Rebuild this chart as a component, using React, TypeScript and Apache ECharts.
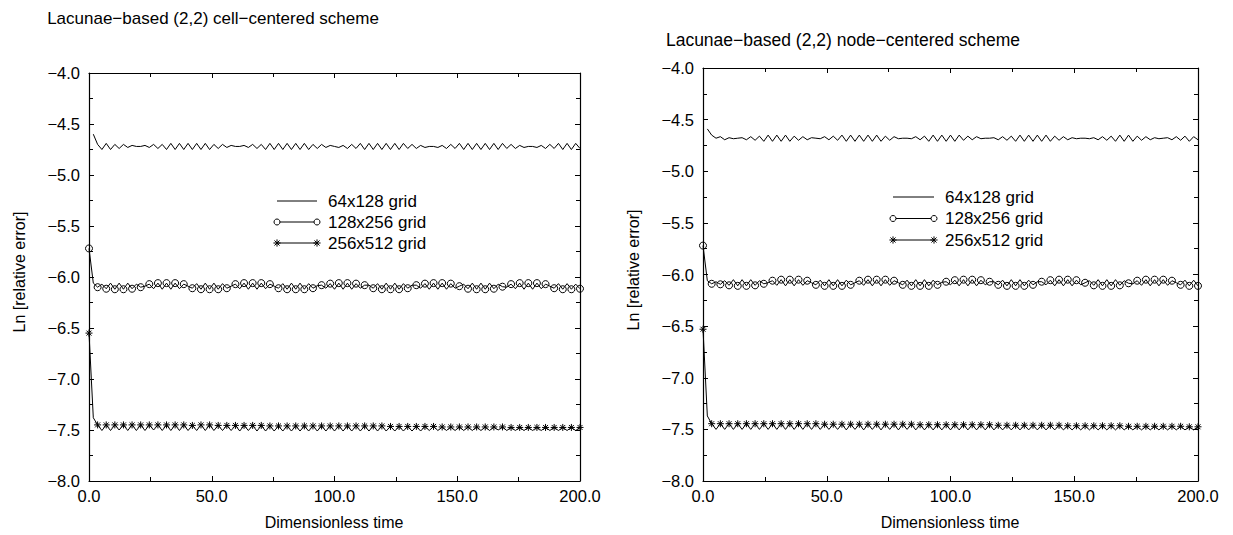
import React, { useEffect, useRef } from "react";
import * as echarts from "echarts";

const FONT = '"Liberation Sans", Arial, Helvetica, sans-serif';

const LEFT_TITLE = "Lacunae\u2212based (2,2) cell\u2212centered scheme";
const RIGHT_TITLE = "Lacunae\u2212based (2,2) node\u2212centered scheme";
const X_NAME = "Dimensionless time";
const Y_NAME = "Ln [relative error]";
const LEGEND_NAMES = ["64x128 grid", "128x256 grid", "256x512 grid"];

const T_MIN = 0;
const T_MAX = 200;
const T_STEP = 50;
const Y_MIN = -8;
const Y_MAX = -4;
const Y_STEP = 0.5;

// Left panel: cell-centered
const cell64: (number | null)[] = [
  null, -4.60, -4.70, -4.75, -4.69, -4.75, -4.70, -4.74, -4.70, -4.73,
  -4.71, -4.72, -4.72, -4.71, -4.73, -4.70, -4.74, -4.70, -4.75, -4.69,
  -4.75, -4.69, -4.75, -4.69, -4.75, -4.69, -4.75, -4.69, -4.75, -4.70,
  -4.74, -4.70, -4.73, -4.71, -4.72, -4.72, -4.71, -4.73, -4.70, -4.74,
  -4.70, -4.75, -4.69, -4.75, -4.69, -4.75, -4.69, -4.75, -4.69, -4.75,
  -4.69, -4.75, -4.70, -4.74, -4.70, -4.73, -4.71, -4.72, -4.73, -4.71,
  -4.74, -4.70, -4.74, -4.69, -4.75, -4.69, -4.75, -4.69, -4.75, -4.69,
  -4.75, -4.69, -4.75, -4.69, -4.74, -4.70, -4.74, -4.71, -4.73, -4.72,
  -4.72, -4.73, -4.71, -4.74, -4.70, -4.74, -4.69, -4.75, -4.69, -4.75,
  -4.69, -4.75, -4.69, -4.75, -4.69, -4.75, -4.69, -4.74, -4.70, -4.74,
  -4.71, -4.73, -4.72, -4.72, -4.73, -4.71, -4.74, -4.70, -4.74, -4.69,
  -4.75, -4.69, -4.75, -4.69, -4.74,
];
const cell128: number[] = [
  -5.72, -6.06, -6.10, -6.07, -6.115, -6.06, -6.12, -6.06, -6.12, -6.06,
  -6.115, -6.07, -6.10, -6.09, -6.07, -6.115, -6.06, -6.12, -6.06, -6.12,
  -6.06, -6.115, -6.07, -6.09, -6.11, -6.065, -6.12, -6.06, -6.12, -6.06,
  -6.12, -6.065, -6.11, -6.09, -6.07, -6.115, -6.06, -6.12, -6.06, -6.12,
  -6.06, -6.115, -6.07, -6.09, -6.11, -6.065, -6.12, -6.06, -6.12, -6.06,
  -6.12, -6.065, -6.11, -6.085, -6.08, -6.11, -6.065, -6.12, -6.06, -6.12,
  -6.06, -6.12, -6.065, -6.11, -6.08, -6.08, -6.11, -6.065, -6.12, -6.06,
  -6.12, -6.06, -6.12, -6.065, -6.11, -6.08, -6.08, -6.11, -6.065, -6.12,
  -6.06, -6.12, -6.06, -6.12, -6.065, -6.11, -6.09, -6.07, -6.115, -6.06,
  -6.12, -6.06, -6.12, -6.06, -6.115, -6.07, -6.095, -6.10, -6.07, -6.115,
  -6.06, -6.12, -6.06, -6.12, -6.06, -6.115, -6.07, -6.09, -6.11, -6.065,
  -6.12, -6.065, -6.12, -6.07, -6.115,
];
const cell256: number[] = [
  -6.55, -7.38, -7.45, -7.505, -7.45, -7.505, -7.45, -7.50, -7.45, -7.505,
  -7.45, -7.505, -7.45, -7.505, -7.45, -7.50, -7.45, -7.505, -7.45, -7.505,
  -7.45, -7.505, -7.45, -7.505, -7.455, -7.505, -7.45, -7.505, -7.45, -7.505,
  -7.455, -7.505, -7.455, -7.505, -7.455, -7.51, -7.455, -7.505, -7.455, -7.51,
  -7.455, -7.51, -7.46, -7.51, -7.46, -7.51, -7.46, -7.51, -7.46, -7.51,
  -7.46, -7.51, -7.46, -7.51, -7.46, -7.51, -7.46, -7.51, -7.46, -7.51,
  -7.46, -7.51, -7.46, -7.51, -7.46, -7.51, -7.46, -7.51, -7.46, -7.51,
  -7.465, -7.51, -7.465, -7.51, -7.465, -7.51, -7.465, -7.51, -7.465, -7.505,
  -7.465, -7.505, -7.47, -7.505, -7.47, -7.505, -7.47, -7.505, -7.47, -7.505,
  -7.47, -7.505, -7.47, -7.505, -7.47, -7.50, -7.47, -7.505, -7.475, -7.505,
  -7.475, -7.505, -7.475, -7.505, -7.475, -7.505, -7.475, -7.505, -7.475, -7.505,
  -7.475, -7.505, -7.475, -7.505, -7.475,
];

// Right panel: node-centered
const node64: (number | null)[] = [
  null, -4.59, -4.65, -4.68, -4.665, -4.695, -4.675, -4.685, -4.68, -4.675,
  -4.695, -4.665, -4.70, -4.66, -4.71, -4.65, -4.71, -4.65, -4.71, -4.65,
  -4.71, -4.66, -4.70, -4.665, -4.695, -4.675, -4.68, -4.685, -4.665, -4.695,
  -4.66, -4.70, -4.65, -4.71, -4.65, -4.71, -4.65, -4.71, -4.65, -4.71,
  -4.65, -4.71, -4.66, -4.70, -4.665, -4.685, -4.68, -4.68, -4.685, -4.665,
  -4.695, -4.66, -4.71, -4.65, -4.71, -4.65, -4.71, -4.65, -4.71, -4.65,
  -4.70, -4.66, -4.695, -4.665, -4.685, -4.68, -4.68, -4.675, -4.695, -4.665,
  -4.70, -4.66, -4.71, -4.65, -4.71, -4.65, -4.71, -4.65, -4.71, -4.65,
  -4.71, -4.66, -4.70, -4.665, -4.695, -4.675, -4.685, -4.68, -4.68, -4.685,
  -4.675, -4.695, -4.665, -4.70, -4.66, -4.71, -4.65, -4.71, -4.65, -4.71,
  -4.66, -4.70, -4.665, -4.695, -4.675, -4.685, -4.68, -4.675, -4.695, -4.665,
  -4.70, -4.66, -4.71, -4.665, -4.695,
];
const node128: number[] = [
  -5.72, -6.06, -6.09, -6.07, -6.095, -6.06, -6.105, -6.05, -6.11, -6.05,
  -6.11, -6.05, -6.105, -6.06, -6.09, -6.08, -6.06, -6.105, -6.05, -6.11,
  -6.05, -6.11, -6.05, -6.105, -6.06, -6.08, -6.10, -6.055, -6.11, -6.05,
  -6.11, -6.05, -6.11, -6.055, -6.10, -6.08, -6.06, -6.105, -6.05, -6.11,
  -6.05, -6.11, -6.05, -6.105, -6.06, -6.08, -6.10, -6.055, -6.11, -6.05,
  -6.11, -6.05, -6.11, -6.055, -6.10, -6.075, -6.07, -6.10, -6.055, -6.11,
  -6.05, -6.11, -6.05, -6.11, -6.055, -6.10, -6.07, -6.07, -6.10, -6.055,
  -6.11, -6.05, -6.11, -6.05, -6.11, -6.055, -6.10, -6.07, -6.07, -6.10,
  -6.055, -6.11, -6.05, -6.11, -6.05, -6.11, -6.055, -6.10, -6.08, -6.06,
  -6.105, -6.05, -6.11, -6.05, -6.11, -6.05, -6.105, -6.06, -6.085, -6.09,
  -6.06, -6.105, -6.05, -6.11, -6.05, -6.11, -6.05, -6.105, -6.06, -6.08,
  -6.10, -6.055, -6.11, -6.055, -6.11,
];
const node256: number[] = [
  -6.53, -7.37, -7.445, -7.50, -7.445, -7.50, -7.445, -7.50, -7.445, -7.50,
  -7.445, -7.50, -7.445, -7.50, -7.445, -7.50, -7.445, -7.50, -7.445, -7.50,
  -7.445, -7.50, -7.445, -7.50, -7.445, -7.50, -7.445, -7.50, -7.45, -7.50,
  -7.45, -7.50, -7.45, -7.505, -7.45, -7.50, -7.45, -7.505, -7.45, -7.50,
  -7.45, -7.505, -7.45, -7.50, -7.45, -7.505, -7.45, -7.50, -7.45, -7.505,
  -7.455, -7.505, -7.455, -7.505, -7.455, -7.505, -7.455, -7.505, -7.455, -7.505,
  -7.455, -7.505, -7.455, -7.505, -7.455, -7.505, -7.455, -7.505, -7.46, -7.505,
  -7.46, -7.505, -7.46, -7.505, -7.46, -7.505, -7.46, -7.505, -7.46, -7.505,
  -7.46, -7.505, -7.46, -7.505, -7.465, -7.505, -7.465, -7.505, -7.465, -7.505,
  -7.465, -7.505, -7.465, -7.505, -7.465, -7.505, -7.465, -7.505, -7.47, -7.505,
  -7.47, -7.505, -7.47, -7.505, -7.47, -7.505, -7.47, -7.505, -7.47, -7.505,
  -7.47, -7.505, -7.475, -7.505, -7.475,
];

const STAR_PATH =
  "path://M5,0L5,10M0,5L10,5M1.46,1.46L8.54,8.54M1.46,8.54L8.54,1.46";

const minus = (s: string) => s.replace("-", "\u2212");

function toData(vals: (number | null)[], marked: boolean) {
  const n = vals.length - 1;
  return vals.map((v, i) => {
    const item: any = { value: [T_MIN + (i * (T_MAX - T_MIN)) / n, v] };
    if (marked && !(i === 0 || (i >= 2 && i % 2 === 0))) item.symbol = "none";
    return item;
  });
}

function makeSeries(axis: number, s64: any[], s128: any[], s256: any[]) {
  const base = {
    type: "line",
    xAxisIndex: axis,
    yAxisIndex: axis,
    lineStyle: { color: "#000", width: 1 },
    silent: true,
    showAllSymbol: true,
    z: 3,
  };
  return [
    { ...base, name: LEGEND_NAMES[0], showSymbol: false, data: toData(s64, false) },
    {
      ...base,
      name: LEGEND_NAMES[1],
      symbol: "circle",
      symbolSize: 7,
      itemStyle: { color: "rgba(0,0,0,0)", borderColor: "#000", borderWidth: 1 },
      data: toData(s128, true),
    },
    {
      ...base,
      name: LEGEND_NAMES[2],
      symbol: STAR_PATH,
      symbolSize: 7,
      itemStyle: { color: "#000", borderColor: "#000", borderWidth: 1 },
      data: toData(s256, true),
    },
  ];
}

function axisPair(kind: "x" | "y", grid: number) {
  const isX = kind === "x";
  const common = {
    gridIndex: grid,
    type: "value",
    min: isX ? T_MIN : Y_MIN,
    max: isX ? T_MAX : Y_MAX,
    interval: isX ? T_STEP : Y_STEP,
    splitLine: { show: false },
    axisLine: { show: true, onZero: false, lineStyle: { color: "#000", width: 1.2 } },
    axisTick: { show: true, inside: true, length: 5, lineStyle: { color: "#000", width: 1 } },
    minorTick: { show: true, splitNumber: 2, length: 4, lineStyle: { color: "#000", width: 1 } },
    minorSplitLine: { show: false },
  };
  return [
    {
      ...common,
      position: isX ? "bottom" : "left",
      axisLabel: {
        show: true,
        color: "#000",
        fontFamily: FONT,
        fontSize: 16.5,
        margin: isX ? 6 : 9,
        formatter: (v: number) => minus(v.toFixed(1)),
      },
    },
    {
      ...common,
      position: isX ? "top" : "right",
      axisLabel: { show: false },
    },
  ];
}

function starGlyph(x: number, y: number) {
  const r = 3.6;
  const d = r * 0.707;
  const ls = { stroke: "#000", lineWidth: 1 };
  return {
    type: "group",
    x,
    y,
    children: [
      { type: "line", shape: { x1: 0, y1: -r, x2: 0, y2: r }, style: ls },
      { type: "line", shape: { x1: -r, y1: 0, x2: r, y2: 0 }, style: ls },
      { type: "line", shape: { x1: -d, y1: -d, x2: d, y2: d }, style: ls },
      { type: "line", shape: { x1: -d, y1: d, x2: d, y2: -d }, style: ls },
    ],
  };
}

function legend(x1: number, x2: number, tx: number, rows: number[]) {
  const ls = { stroke: "#000", lineWidth: 1 };
  const cs = { stroke: "#000", lineWidth: 1, fill: "#fff" };
  const els: any[] = [];
  rows.forEach((y, k) => {
    els.push({ type: "line", shape: { x1, y1: y, x2, y2: y }, style: ls });
    if (k === 1) {
      els.push({ type: "circle", shape: { cx: x1, cy: y, r: 3 }, style: cs });
      els.push({ type: "circle", shape: { cx: x2, cy: y, r: 3 }, style: cs });
    }
    if (k === 2) {
      els.push(starGlyph(x1, y));
      els.push(starGlyph(x2, y));
    }
    els.push({
      type: "text",
      x: tx,
      y,
      style: {
        text: LEGEND_NAMES[k],
        fill: "#000",
        fontFamily: FONT,
        fontSize: 17,
        align: "left",
        verticalAlign: "middle",
      },
    });
  });
  return els;
}

function label(text: string, x: number, y: number, size: number, rotate = false) {
  return {
    type: "text",
    x,
    y,
    rotation: rotate ? Math.PI / 2 : 0,
    style: {
      text,
      fill: "#000",
      fontFamily: FONT,
      fontSize: size,
      align: "center",
      verticalAlign: "middle",
    },
  };
}

export default function App() {
  const ref = useRef<HTMLDivElement>(null);
  useEffect(() => {
    if (!ref.current) return;
    const chart = echarts.init(ref.current, undefined, { renderer: "svg" });
    const [xl0, xl1] = axisPair("x", 0);
    const [xr0, xr1] = axisPair("x", 1);
    const [yl0, yl1] = axisPair("y", 0);
    const [yr0, yr1] = axisPair("y", 1);
    chart.setOption({
      animation: false,
      backgroundColor: "#fff",
      grid: [
        { left: 89, top: 73, width: 491, height: 408 },
        { left: 703, top: 68, width: 495, height: 413 },
      ],
      xAxis: [xl0, xl1, xr0, xr1],
      yAxis: [yl0, yl1, yr0, yr1],
      series: [
        ...makeSeries(0, cell64, cell128, cell256),
        ...makeSeries(2, node64, node128, node256),
      ],
      graphic: [
        label(LEFT_TITLE, 213, 18, 17),
        label(RIGHT_TITLE, 843, 40, 17.5),
        label(X_NAME, 334, 522, 16),
        label(X_NAME, 950, 522, 16),
        label(Y_NAME, 19, 272, 16, true),
        label(Y_NAME, 633, 270, 16, true),
        ...legend(277, 317, 328, [201, 222, 243]),
        ...legend(893, 934, 945, [197, 218.5, 240]),
      ],
    });
    return () => chart.dispose();
  }, []);
  return (
    <div
      ref={ref}
      style={{ position: "absolute", left: 0, top: 0, width: 1233, height: 535 }}
    />
  );
}
